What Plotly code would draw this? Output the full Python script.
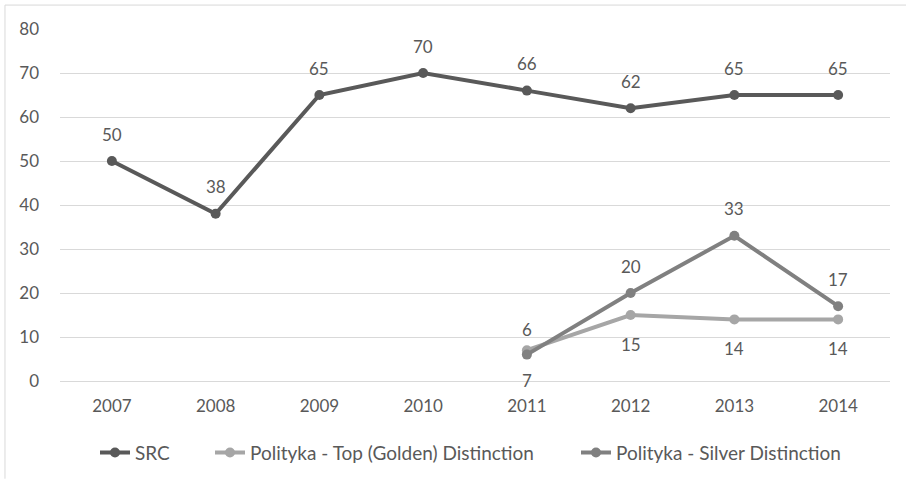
import plotly.graph_objects as go

years = ["2007", "2008", "2009", "2010", "2011", "2012", "2013", "2014"]
src = [50, 38, 65, 70, 66, 62, 65, 65]
golden = [None, None, None, None, 7, 15, 14, 14]
silver = [None, None, None, None, 6, 20, 33, 17]
y_ticks = [0, 10, 20, 30, 40, 50, 60, 70, 80]

FONT = "Lato"
TXT = "#595959"
c_src, c_gold, c_silver = "#595959", "#a6a6a6", "#808080"

fig = go.Figure()
fig.add_trace(go.Scatter(x=years, y=src, name="SRC", mode="lines+markers", legend="legend",
                         line=dict(color=c_src, width=4), marker=dict(size=10, color=c_src)))
fig.add_trace(go.Scatter(x=years, y=golden, name="Polityka - Top (Golden) Distinction", mode="lines+markers",
                         legend="legend2",
                         line=dict(color=c_gold, width=4), marker=dict(size=10, color=c_gold)))
fig.add_trace(go.Scatter(x=years, y=silver, name="Polityka - Silver Distinction", mode="lines+markers",
                         legend="legend3",
                         line=dict(color=c_silver, width=4), marker=dict(size=10, color=c_silver)))

ann = []
for i, v in enumerate(src):
    ann.append(dict(x=i, y=v, text=str(v), showarrow=False, yshift=27))
for i, v in enumerate(golden):
    if v is not None:
        ann.append(dict(x=i, y=v, text=str(v), showarrow=False, yshift=-30 if i == 4 else -29))
for i, v in enumerate(silver):
    if v is not None:
        ann.append(dict(x=i, y=v, text=str(v), showarrow=False, yshift=25 if i == 4 else 27))
for a in ann:
    a["font"] = dict(family=FONT, size=17, color=TXT)
    a["xref"] = "x"
    a["yref"] = "y"

PW = 830.0
def lx(px):
    return (px - 60) / PW

leg_common = dict(orientation="h", xanchor="left", y=-0.2, yanchor="middle",
                  font=dict(family=FONT, size=19, color=TXT), itemwidth=30)

fig.update_layout(
    width=906, height=483,
    margin=dict(l=60, r=16, t=29, b=101),
    paper_bgcolor="white", plot_bgcolor="white",
    font=dict(family=FONT, size=17, color=TXT),
    annotations=ann,
    showlegend=True,
    legend=dict(x=lx(95), **leg_common),
    legend2=dict(x=lx(210), **leg_common),
    legend3=dict(x=lx(576), **leg_common),
    xaxis=dict(type="category", showgrid=False, showline=True, linecolor="#d9d9d9", linewidth=1,
               ticks="", ticklabelstandoff=10, tickfont=dict(family=FONT, size=17, color=TXT),
               range=[-0.5, 7.5]),
    yaxis=dict(range=[0, 80], tickvals=y_ticks, showgrid=True, gridcolor="#d9d9d9", gridwidth=1,
               zeroline=False, showline=False, ticks="", ticklabelstandoff=20,
               tickfont=dict(family=FONT, size=17, color=TXT)),
    shapes=[
        dict(type="line", xref="paper", yref="paper", x0=-0.0663, x1=1.1, y0=1.068, y1=1.068,
             line=dict(color="#d9d9d9", width=1)),
        dict(type="line", xref="paper", yref="paper", x0=-0.0663, x1=-0.0663, y0=1.068, y1=-0.2776,
             line=dict(color="#d9d9d9", width=1)),
    ],
)

fig.write_html("out.html")
